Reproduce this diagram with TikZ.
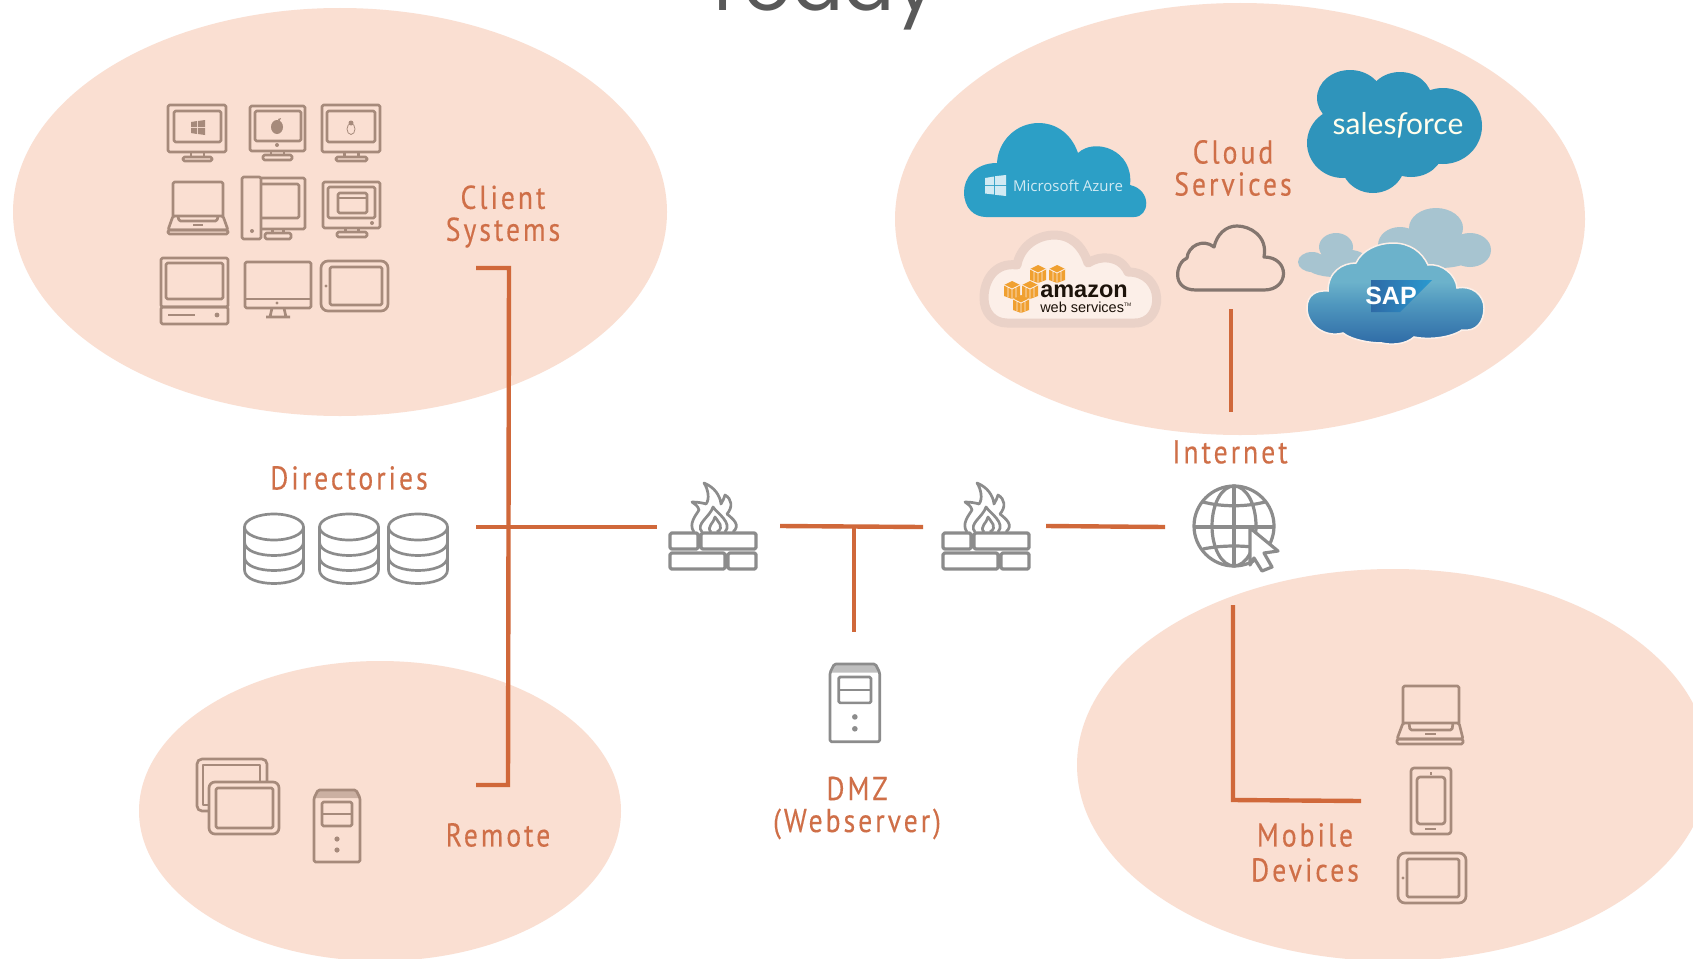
\documentclass[tikz,border=0pt]{standalone}
\usepackage{fontspec}
\setmainfont{Lato}
\newfontfamily\labfont[LetterSpace=9,FakeStretch=0.84,FakeBold=0.25]{PT Sans}
\newfontfamily\titlefont{Poppins}
\newfontfamily\logofont{Open Sans}
\newfontfamily\boldfont{Liberation Sans}
\usetikzlibrary{shapes.geometric}
\definecolor{blob}{HTML}{FADFD2}
\definecolor{wire}{HTML}{D0683A}
\definecolor{labc}{HTML}{CF6F48}
\definecolor{warm}{HTML}{A68A7B}
\definecolor{cool}{HTML}{8C8C8C}
\definecolor{azure}{HTML}{2C9FC6}
\definecolor{sforce}{HTML}{2F94BB}
\definecolor{sapback}{HTML}{A7C4D0}
\definecolor{awsline}{HTML}{EAD2C8}
\definecolor{awsfill}{HTML}{FCEFE8}
\definecolor{awsor}{HTML}{F0A030}
\definecolor{sapa}{HTML}{2A4F8E}
\definecolor{sapb}{HTML}{2E6AA6}
\definecolor{sapc}{HTML}{4F97BE}
\definecolor{sapd}{HTML}{6CB2CB}
\definecolor{sape}{HTML}{2A9AD0}
\pgfdeclareverticalshading{sapgrad}{100bp}{
  color(0bp)=(sapa);
  color(25bp)=(sapb);
  color(45bp)=(sapc);
  color(56bp)=(sapd);
  color(100bp)=(sapd)}
\colorlet{ic}{warm}
\tikzset{
  x=1pt,y=-1pt,
  blobshape/.style={fill=blob,draw=none},
  wireline/.style={draw=wire,line width=4.4pt},
  icon/.style={draw=ic,line width=2.7pt,rounded corners=1.5pt,line join=round},
  plainicon/.style={draw=ic,line width=2.7pt,line join=round},
  dotf/.style={fill=ic,draw=none},
  lab/.style={text=labc,align=center,font=\labfont\fontsize{33}{32}\selectfont,inner sep=0pt},
}
\newcommand\mystand[5]{%
  \draw[icon] (#1,#4) rectangle (#2,#5);
  \draw[plainicon] ({#1+(#2-#1)*0.28},#3) -- ({#1+(#2-#1)*0.28},#4)
                   ({#1+(#2-#1)*0.72},#3) -- ({#1+(#2-#1)*0.72},#4);
}
\newcommand\myserver[3]{%
  \begin{scope}[shift={(#1,#2)},scale=#3]
    \fill[ic,opacity=.55] (4,0) -- (42,0) -- (46,8) -- (0,8) -- cycle;
    \draw[icon] (0,8) -- (4,0) -- (42,0) -- (46,8) -- (46,72) -- (0,72) -- cycle;
    \draw[icon] (8,12) rectangle (38,36);
    \draw[plainicon] (8,24) -- (38,24);
    \fill[dotf] (23,49) circle (2.6pt) (23,60) circle (2.6pt);
  \end{scope}%
}
\newcommand\mydb[1]{%
  \begin{scope}[shift={(#1,527)}]
    \draw[plainicon] (0,0) ellipse [x radius=29.5pt,y radius=13pt];
    \draw[plainicon] (-29.5,0) -- (-29.5,43) (29.5,0) -- (29.5,43);
    \draw[plainicon] (-29.5,15) .. controls (-29.5,33) and (29.5,33) .. (29.5,15);
    \draw[plainicon] (-29.5,30) .. controls (-29.5,48) and (29.5,48) .. (29.5,30);
    \draw[plainicon] (-29.5,43) .. controls (-29.5,61) and (29.5,61) .. (29.5,43);
  \end{scope}%
}
\newcommand\myfire[1]{%
  \begin{scope}[shift={(#1,533)}]
    \draw[icon,line width=3.2pt] (0,0) rectangle (28,16) (31,0) rectangle (86,16)
                (0,20) rectangle (55,36) (58,20) rectangle (86,36);
    \draw[plainicon,line width=2.7pt] (24,-1) .. controls (18,-9) and (26,-18) .. (29,-23)
      .. controls (28,-27) and (25,-29) .. (22,-31)
      .. controls (28,-31) and (33,-30) .. (36,-29)
      .. controls (40,-34) and (38,-44) .. (34,-50)
      .. controls (44,-46) and (50,-38) .. (51,-29)
      .. controls (53,-32) and (54,-35) .. (55,-38)
      .. controls (62,-34) and (63,-26) .. (57,-19)
      .. controls (63,-14) and (71,-8) .. (63,-1);
    \draw[plainicon,line width=2.7pt] (32,-1) .. controls (25,-9) and (40,-16) .. (43,-26)
      .. controls (47,-20) and (63,-10) .. (55,-1);
    \draw[plainicon,line width=2.7pt] (41,-1) .. controls (36,-6) and (44,-10) .. (45,-16)
      .. controls (48,-11) and (55,-6) .. (47,-1);
  \end{scope}%
}
\newcommand\mycube[2]{%
  \begin{scope}[shift={(#1,#2)}]
    \fill[awsor] (-8,-3) -- (0,-7) -- (8,-3) -- (8,8) -- (0,11) -- (-8,8) -- cycle;
    \draw[awsfill,line width=.8pt] (-8,-3) -- (0,1) -- (8,-3) (0,1) -- (0,11) (-4,-1) -- (-4,9) (4,-1) -- (4,9);
  \end{scope}%
}
\begin{document}
\begin{tikzpicture}
\useasboundingbox (0,0) rectangle (1693,958);
\clip (0,0) rectangle (1693,958);
\fill[white] (0,0) rectangle (1693,958);

\node[anchor=base,text=black!65,font=\titlefont\fontsize{76}{78}\selectfont,inner sep=0pt] (title) at (820,11) {Today};

\fill[blobshape] (340,212) ellipse [x radius=327pt,y radius=204pt];
\fill[blobshape] (1240,219) ellipse [x radius=345pt,y radius=216pt];
\fill[blobshape] (380,811) ellipse [x radius=241pt,y radius=150pt];
\fill[blobshape] (1393,765) ellipse [x radius=316pt,y radius=196pt];

\coordinate (csEnd) at (476,268);
\coordinate (csCorner) at (509,268);
\coordinate (rmCorner) at (508,785);
\coordinate (rmEnd) at (476,785);
\coordinate (dirEnd) at (476,527);
\coordinate (fwLeftIn) at (657,527);
\coordinate (fwLeftOut) at (780,526);
\coordinate (fwRightIn) at (923,527);
\coordinate (dmzJoin) at (854,527);
\coordinate (dmzTop) at (854,632);
\coordinate (fwRightOut) at (1046,526);
\coordinate (inetIn) at (1165,527);
\coordinate (cloudBottom) at (1231,309);
\coordinate (inetTop) at (1231,412);
\coordinate (inetBottom) at (1233,605);
\coordinate (mobCorner) at (1233,800);
\coordinate (mobEnd) at (1361,801);

\draw[wireline] (csEnd) -- (csCorner) -- (rmCorner) -- (rmEnd);
\draw[wireline] (dirEnd) -- (fwLeftIn);
\draw[wireline] (fwLeftOut) -- (fwRightIn);
\draw[wireline] (dmzJoin) -- (dmzTop);
\draw[wireline] (fwRightOut) -- (inetIn);
\draw[wireline] (cloudBottom) -- (inetTop);
\draw[wireline] (inetBottom) -- (mobCorner) -- (mobEnd);

\node[lab] (clientLab) at (503,216.5) {Client\\Systems};
\node[lab] (cloudLab) at (1233,168) {Cloud\\Services};
\node[lab] (dirLab) at (349,478) {Directories};
\node[lab] (inetLab) at (1230,452) {Internet};
\node[lab] (remoteLab) at (498,835) {Remote};
\node[lab] (dmzLab) at (857,808) {DMZ\\(Webserver)};
\node[lab,font=\labfont\fontsize{33}{35}\selectfont] (mobileLab) at (1305,852.5) {Mobile\\Devices};

% client systems icons
\draw[icon] (168,105) rectangle (226,152) (174,111) rectangle (221,142);
\mystand{183}{212}{152}{157}{161}
\fill[dotf] (191,122) -- (197,121) -- (197,127) -- (191,127) -- cycle
            (198,121) -- (205,120) -- (205,127) -- (198,127) -- cycle
            (191,128) -- (197,128) -- (197,134) -- (191,133) -- cycle
            (198,128) -- (205,128) -- (205,135) -- (198,134) -- cycle;
\draw[icon] (250,106) rectangle (305,151) (255,111) rectangle (301,141);
\mystand{263}{292}{151}{155}{160}
\fill[dotf] (277,127) ellipse [x radius=6pt,y radius=7pt];
\fill[dotf] (278,119) -- (281,118) -- (279,122) -- cycle;
\fill[dotf] (277,145) circle (2pt);
\draw[icon] (322,105) rectangle (380,152) (327,111) rectangle (375,142);
\mystand{336}{367}{152}{157}{161}
\draw[draw=ic,line width=.8pt] (351,129) ellipse [x radius=4pt,y radius=5.5pt];
\fill[dotf] (351,123) ellipse [x radius=2.5pt,y radius=2.5pt];

\draw[icon] (173,216) -- (173,182) -- (223,182) -- (223,216);
\draw[icon] (173,216) -- (168,230) -- (228,230) -- (223,216) -- cycle;
\draw[icon] (178,216) -- (179,221) -- (217,221) -- (218,216);
\draw[icon] (168,230) rectangle (228,234);
\draw[plainicon] (193,225) -- (203,225);

\draw[icon] (242,177) rectangle (261,239);
\fill[dotf] (252,231) circle (2pt);
\draw[icon] (261,178) -- (305,178) -- (305,229) -- (261,229);
\draw[icon] (261,184) -- (299,184) -- (299,218) -- (261,218);
\mystand{265}{291}{229}{233}{239}

\draw[icon] (323,182) rectangle (380,228) (328,187) rectangle (375,218);
\draw[icon] (338,193) rectangle (367,213);
\draw[plainicon] (338,198) -- (367,198);
\fill[dotf] (372,223) circle (2pt);
\mystand{337}{367}{228}{232}{237}

\draw[icon] (161,258) rectangle (228,307) (166,263) rectangle (223,299);
\draw[icon] (161,307) rectangle (228,324);
\draw[plainicon] (168,315) -- (195,315);
\fill[dotf] (217,315) circle (2.4pt);

\draw[icon] (245,262) rectangle (311,308);
\draw[plainicon] (245,299) -- (311,299);
\fill[dotf] (277,303) circle (1.6pt);
\draw[plainicon] (272,308) -- (270,317) (284,308) -- (286,317) (266,317) -- (290,317);

\draw[icon,rounded corners=7pt] (321,261) rectangle (388,311);
\draw[icon] (330,267) rectangle (382,305);
\fill[dotf] (326,286) circle (1.6pt);

% remote icons
\draw[icon,rounded corners=5pt] (209,811) -- (197,811) -- (197,759) -- (267,759) -- (267,782);
\draw[plainicon] (209,805) -- (203,805) -- (203,765) -- (260,765) -- (260,782);
\draw[icon,rounded corners=6pt] (209,782) rectangle (279,834);
\draw[icon] (216,788) rectangle (273,828);
\myserver{314}{790}{1}

% mobile icons
\draw[icon] (1403,723) -- (1403,686) -- (1459,686) -- (1459,723);
\draw[icon] (1403,723) -- (1397,739) -- (1463,739) -- (1459,723) -- cycle;
\draw[icon] (1409,723) -- (1410,730) -- (1452,730) -- (1453,723);
\draw[icon] (1397,739) rectangle (1463,744);
\draw[plainicon] (1425,734) -- (1436,734);

\draw[icon,rounded corners=3pt] (1411,768) rectangle (1451,834);
\draw[icon,rounded corners=3pt] (1417,777) rectangle (1445,824);
\draw[plainicon] (1431,772) -- (1431,775) (1425,829) -- (1436,829);

\draw[icon,rounded corners=7pt] (1398,853) rectangle (1466,903);
\draw[icon] (1407,859) rectangle (1459,897);
\fill[dotf] (1403,878) circle (1.6pt);

% grey icons
\colorlet{ic}{cool}
\mydb{274}\mydb{349}\mydb{418}
\myfire{670}
\myfire{943}
\myserver{830}{664}{1.08}

% globe
\draw[plainicon,line width=3.2pt] (1234,526) circle (40pt);
\draw[plainicon,line width=3.2pt] (1234,526) ellipse [x radius=22pt,y radius=40pt];
\draw[plainicon,line width=3.2pt] (1234,486) -- (1234,566) (1194,527) -- (1274,527);
\draw[plainicon,line width=3.2pt] (1203,502) .. controls (1222,507) and (1246,507) .. (1265,502);
\draw[plainicon,line width=3.2pt] (1203,549) .. controls (1222,545) and (1246,545) .. (1265,549);
\filldraw[plainicon,fill=white,line width=3.2pt] (1250,528) -- (1278,551) -- (1264,553) -- (1272,567) -- (1262,571) -- (1254,558) -- (1250,565) -- cycle;

% outline cloud
\draw[plainicon,line width=3.2pt,draw=black!47!blob] (1196,290) -- (1264,290)
  .. controls (1290,290) and (1290,257) .. (1264,257)
  .. controls (1268,236) and (1250,226) .. (1237,226)
  .. controls (1226,226) and (1217,234) .. (1214,247)
  .. controls (1203,238) and (1188,246) .. (1187,258)
  .. controls (1176,262) and (1170,290) .. (1196,290) -- cycle;

% Azure
\fill[azure] (986,217) -- (1134,217)
  .. controls (1150,217) and (1152,190) .. (1130,185)
  .. controls (1134,150) and (1095,137) .. (1078,153)
  .. controls (1070,130) and (1052,123) .. (1039,123)
  .. controls (1015,123) and (998,142) .. (997,163)
  .. controls (975,163) and (964,178) .. (964,192)
  .. controls (964,208) and (974,217) .. (986,217) -- cycle;
\fill[white!78!azure] (985,178) -- (994,176.5) -- (994,185) -- (985,185) -- cycle
  (995,176.2) -- (1006,175) -- (1006,185) -- (995,185) -- cycle
  (985,186) -- (994,186) -- (994,194.5) -- (985,193.5) -- cycle
  (995,186) -- (1006,186) -- (1006,196) -- (995,194.8) -- cycle;
\node[text=white!78!azure,font=\logofont\fontsize{15}{18}\selectfont,inner sep=0pt] (azureLab) at (1068,186) {Microsoft Azure};

% Salesforce
\fill[sforce] (1350,98) ellipse [x radius=33pt,y radius=28pt]
  (1400,100) ellipse [x radius=32pt,y radius=28pt]
  (1443,126) ellipse [x radius=39pt,y radius=38pt]
  (1343,143) ellipse [x radius=36pt,y radius=35pt]
  (1373,163) ellipse [x radius=32pt,y radius=30pt]
  (1411,150) ellipse [x radius=32pt,y radius=27pt]
  (1390,130) ellipse [x radius=50pt,y radius=35pt];
\node[text=white!93!yellow,font=\fontsize{30}{32}\selectfont,inner sep=0pt] (sfLab) at (1398,125) {sales{\itshape f}orce};

% AWS
\draw[draw=awsline,line width=9pt,fill=awsfill,line join=round] (1007,323) -- (1135,323)
  .. controls (1165,323) and (1165,272) .. (1128,272)
  .. controls (1120,255) and (1100,255) .. (1088,263)
  .. controls (1082,245) and (1070,235) .. (1055,235)
  .. controls (1035,235) and (1020,248) .. (1017,265)
  .. controls (995,262) and (984,280) .. (984,298)
  .. controls (984,312) and (993,323) .. (1007,323) -- cycle;
\mycube{1038}{272}\mycube{1057}{272}\mycube{1012}{288}\mycube{1030}{288}\mycube{1021}{302}
\node[text=black!85!brown,font=\boldfont\bfseries\fontsize{23.5}{24}\selectfont,inner sep=0pt,anchor=base] (amazonLab) at (1084,297) {amazon};
\node[text=black!85!brown,font=\boldfont\fontsize{14.5}{15}\selectfont,inner sep=0pt,anchor=base] (wsLab) at (1086,312) {web services\textsuperscript{\fontsize{5}{5}\selectfont TM}};

% SAP
\fill[sapback] (1436,228) ellipse [x radius=27pt,y radius=20pt]
  (1400,245) ellipse [x radius=22pt,y radius=18pt]
  (1470,250) ellipse [x radius=21pt,y radius=17pt]
  (1440,250) ellipse [x radius=40pt,y radius=18pt]
  (1336,247) ellipse [x radius=17pt,y radius=14pt]
  (1312,262) ellipse [x radius=14pt,y radius=10pt]
  (1350,262) ellipse [x radius=18pt,y radius=12pt]
  (1335,265) ellipse [x radius=30pt,y radius=12pt];
\path[draw=awsfill,line width=1.5pt,shading=sapgrad]
  (1307,308) .. controls (1307,295) and (1316,290) .. (1328,291)
  .. controls (1328,272) and (1342,263) .. (1356,263)
  .. controls (1362,250) and (1378,243) .. (1393,243)
  .. controls (1410,243) and (1422,252) .. (1428,265)
  .. controls (1442,263) and (1456,275) .. (1457,288)
  .. controls (1472,285) and (1484,295) .. (1484,308)
  .. controls (1484,322) and (1476,332) .. (1462,330)
  .. controls (1450,338) and (1428,340) .. (1414,337)
  .. controls (1405,345) and (1390,345) .. (1382,343)
  .. controls (1370,343) and (1352,340) .. (1343,333)
  .. controls (1325,338) and (1307,325) .. (1307,308) -- cycle;
\shade[left color=sapb,right color=sape] (1371,280) -- (1432,280) -- (1400,312) -- (1371,312) -- cycle;
\node[text=white,font=\boldfont\bfseries\fontsize{25}{25}\selectfont,inner sep=0pt] (sapLab) at (1391,296) {SAP};
\end{tikzpicture}
\end{document}
